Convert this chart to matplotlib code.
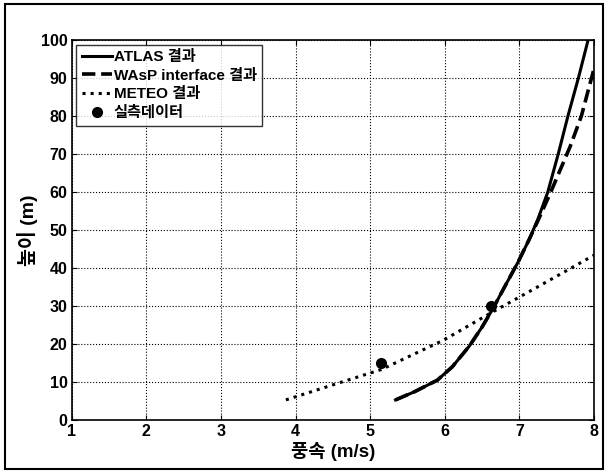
import numpy as np
import matplotlib.pyplot as plt
from matplotlib.patches import Rectangle

plt.rcParams['font.family'] = ['Liberation Sans', 'Noto Sans CJK KR', 'DejaVu Sans']

# ATLAS 결과
atlas_v = [5.34, 5.6, 5.9, 6.1, 6.33, 6.5, 6.65, 6.8, 6.98, 7.13, 7.25, 7.38, 7.52, 7.65, 7.79, 7.92]
atlas_h = [5.3, 7.5, 10.5, 14, 19.5, 24.5, 29.5, 35, 41.5, 47.5, 53, 60, 70, 80, 90, 100]
# WAsP interface 결과
wasp_v = [5.34, 5.6, 5.9, 6.1, 6.33, 6.5, 6.65, 6.8, 6.98, 7.13, 7.26, 7.42, 7.55, 7.68, 7.83, 8.0]
wasp_h = [5.3, 7.5, 10.5, 14, 19.5, 24.5, 29.5, 35, 41.5, 47.5, 53, 60, 66, 72, 80, 92.5]
# METEO 결과
meteo_v = [3.87, 4.57, 5.15, 5.98, 6.6, 7.24, 8.0]
meteo_h = [5.3, 9.7, 13.3, 21, 28, 35, 43.4]
# 실측데이터
obs_v = [5.15, 6.62]
obs_h = [15, 30]

fig = plt.figure(figsize=(6.08, 4.73), dpi=100)
ax = fig.add_axes([0.118, 0.112, 0.859, 0.803])

ax.plot(atlas_v, atlas_h, 'k-', lw=2.2, label='ATLAS 결과')
ax.plot(wasp_v, wasp_h, 'k--', lw=2.6, label='WAsP interface 결과')
ax.plot(meteo_v, meteo_h, 'k:', lw=2.2, label='METEO 결과')
ax.plot(obs_v, obs_h, 'ko', ms=7, ls='none', label='실측데이터')

ax.set_xlim(1, 8)
ax.set_ylim(0, 100)
ax.set_xticks(range(1, 9))
ax.set_yticks(range(0, 101, 10))
ax.tick_params(direction='in', top=True, right=True, labelsize=11.5, pad=3)
for t in ax.get_xticklabels() + ax.get_yticklabels():
    t.set_fontweight('bold')
ax.grid(True, color='k', ls=':', lw=0.8)
for s in ax.spines.values():
    s.set_linewidth(1.2)

ax.set_xlabel('풍속 (m/s)', fontsize=13.5, fontweight='bold', labelpad=2)
ax.set_ylabel('높이 (m)', fontsize=14, fontweight='bold', labelpad=2)

leg = ax.legend(loc='upper left', frameon=True, fancybox=False,
                edgecolor='k', handlelength=2.0, handletextpad=0.1,
                borderpad=0.35, labelspacing=0.3, borderaxespad=0.3,
                prop={'weight': 'bold', 'size': 11})
leg.get_frame().set_linewidth(1.0)

fig.patches.append(Rectangle((0.008, 0.008), 0.984, 0.984, transform=fig.transFigure,
                             fill=False, edgecolor='k', lw=1.5))

fig.savefig('out.png', dpi=100)
